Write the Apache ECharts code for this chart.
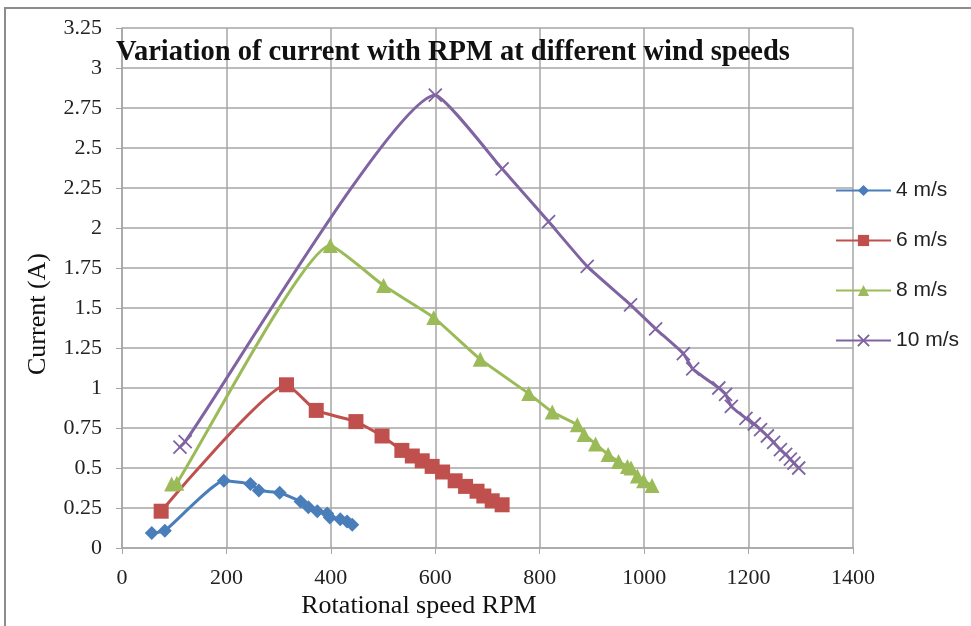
<!DOCTYPE html>
<html>
<head>
<meta charset="utf-8">
<script src="https://cdn.jsdelivr.net/npm/echarts@6/dist/echarts.min.js"></script>
<style>
  html, body { margin: 0; padding: 0; background: #fff; }
  #chart { width: 971px; height: 626px; }
</style>
</head>
<body>
<div id="chart"></div>
<script>
// [rpm, current] pairs
const ws4 = [
  [57, 0.094], [82, 0.108], [195, 0.42], [246, 0.40], [262, 0.36], [302, 0.345],
  [342, 0.29], [357, 0.255], [374, 0.23], [393, 0.215], [398, 0.19], [418, 0.18],
  [431, 0.165], [441, 0.145],
];
const ws6 = [
  [75, 0.23], [315, 1.02], [372, 0.86], [448, 0.79], [498, 0.70], [536, 0.61],
  [556, 0.575], [575, 0.545], [594, 0.51], [614, 0.475], [638, 0.42], [658, 0.385],
  [680, 0.355], [693, 0.325], [709, 0.295], [728, 0.27],
];
const ws8 = [
  [95, 0.40], [105, 0.405], [399, 1.89], [501, 1.64], [597, 1.44], [686, 1.18],
  [779, 0.965], [824, 0.85], [872, 0.77], [885, 0.71], [907, 0.65], [931, 0.585],
  [951, 0.54], [968, 0.51], [975, 0.50], [987, 0.45], [999, 0.42], [1015, 0.39],
];
const ws10 = [
  [111, 0.63], [121, 0.665], [600, 2.83], [728, 2.37], [817, 2.04], [891, 1.76],
  [974, 1.52], [1022, 1.37], [1075, 1.215], [1093, 1.12], [1143, 1.0], [1156, 0.96],
  [1167, 0.885], [1195, 0.81], [1211, 0.775], [1223, 0.74], [1236, 0.70],
  [1248, 0.66], [1261, 0.615], [1271, 0.585], [1280, 0.555], [1287, 0.53], [1296, 0.50],
];
const seriesNames = ['4 m/s', '6 m/s', '8 m/s', '10 m/s'];
const xTicks = { min: 0, max: 1400, interval: 200 };
const yTicks = { min: 0, max: 3.25, interval: 0.25 };

const serif = '"Liberation Serif", "Times New Roman", serif';
const gridColor = '#a6a6a6';

const line = (name, data, color, symbol, size, extra) => ({
  name,
  type: 'line',
  smooth: 0.15,
  data,
  symbol,
  symbolSize: size,
  lineStyle: { color, width: 3 },
  itemStyle: Object.assign({ color }, extra || {}),
  z: 3,
});

const option = {
  animation: false,
  backgroundColor: '#fff',
  title: {
    text: 'Variation of current with RPM at different wind speeds',
    left: 111,
    top: 33,
    textStyle: {
      fontFamily: serif,
      fontSize: 28.5,
      fontWeight: 'bold',
      color: '#111',
    },
  },
  legend: {
    orient: 'vertical',
    left: 830,
    top: 175,
    itemWidth: 55,
    itemHeight: 14,
    itemGap: 29,
    data: seriesNames,
    textStyle: {
      fontFamily: '"Liberation Sans", Arial, sans-serif',
      fontSize: 21,
      color: '#222',
    },
  },
  grid: {
    left: 122,
    right: 118,
    top: 28,
    bottom: 78,
  },
  xAxis: {
    type: 'value',
    min: xTicks.min,
    max: xTicks.max,
    interval: xTicks.interval,
    axisLine: { show: true, lineStyle: { color: gridColor, width: 1.5 } },
    axisTick: { show: true, length: 6, lineStyle: { color: gridColor } },
    splitLine: { show: true, lineStyle: { color: gridColor, width: 1.5 } },
    axisLabel: {
      fontFamily: serif, fontSize: 22, color: '#222', margin: 19,
      formatter: (v) => String(v),
    },
  },
  yAxis: {
    type: 'value',
    min: yTicks.min,
    max: yTicks.max,
    interval: yTicks.interval,
    axisLine: { show: true, lineStyle: { color: gridColor, width: 1.5 } },
    axisTick: { show: true, length: 6, lineStyle: { color: gridColor } },
    splitLine: { show: true, lineStyle: { color: gridColor, width: 1.5 } },
    axisLabel: { fontFamily: serif, fontSize: 22, color: '#222', margin: 20 },
  },
  graphic: [
    {
      type: 'polyline',
      shape: { points: [[5, 626], [5, 8], [971, 8]] },
      style: { stroke: '#8c8c8c', lineWidth: 2, fill: null },
    },
    // axis titles, placed off-centre like the source
    {
      type: 'text',
      x: 419,
      y: 606,
      style: {
        text: 'Rotational speed RPM',
        font: '26px ' + serif,
        fill: '#111',
        align: 'center',
        verticalAlign: 'middle',
      },
    },
    {
      type: 'text',
      x: 38,
      y: 314,
      rotation: Math.PI / 2,
      style: {
        text: 'Current (A)',
        font: '26px ' + serif,
        fill: '#111',
        align: 'center',
        verticalAlign: 'middle',
      },
    },
  ],
  series: [
    line(seriesNames[0], ws4, '#4a7ebb', 'diamond', 14),
    line(seriesNames[1], ws6, '#c0504d', 'rect', 15),
    line(seriesNames[2], ws8, '#9bbb59', 'triangle', 15),
    line(seriesNames[3], ws10, '#8064a2', 'path://M0,0L10,10M10,0L0,10', 13,
      { borderColor: '#8064a2', borderWidth: 1.8 }),
  ],
};

const chart = echarts.init(document.getElementById('chart'));
chart.setOption(option);
</script>
</body>
</html>
